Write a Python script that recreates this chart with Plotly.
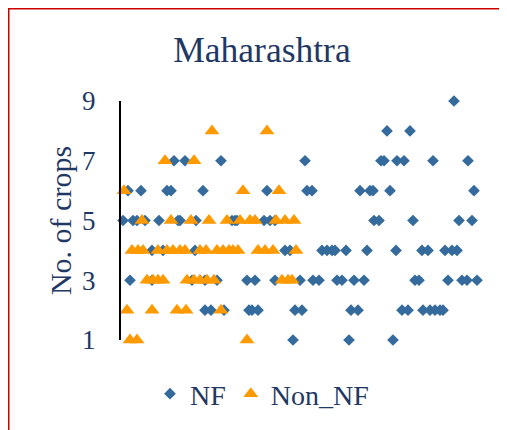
import plotly.graph_objects as go

# NF (diamonds): respondent position and number of crops
nf_x = [333,
        266, 289,
        53, 64, 100, 184, 260, 263, 276, 283, 312, 347,
        7, 20, 46, 50, 82, 146, 186, 191, 239, 249, 252, 269, 353,
        2, 12, 16, 24, 38, 57, 59, 75, 111, 114, 116, 143, 149, 154, 253, 258, 292, 338, 351,
        31, 42, 74, 164, 169, 201, 206, 211, 214, 225, 246, 275, 301, 307, 324, 331, 336,
        9, 31, 71, 84, 96, 126, 134, 154, 179, 192, 198, 216, 221, 233, 243, 294, 298, 327, 341, 346, 356,
        84, 90, 103, 128, 131, 137, 174, 181, 230, 237, 281, 287, 302, 309, 314, 319, 322,
        172, 228, 272]
nf_y = [9,
        8, 8,
        7, 7, 7, 7, 7, 7, 7, 7, 7, 7,
        6, 6, 6, 6, 6, 6, 6, 6, 6, 6, 6, 6, 6,
        5, 5, 5, 5, 5, 5, 5, 5, 5, 5, 5, 5, 5, 5, 5, 5, 5, 5, 5,
        4, 4, 4, 4, 4, 4, 4, 4, 4, 4, 4, 4, 4, 4, 4, 4, 4,
        3, 3, 3, 3, 3, 3, 3, 3, 3, 3, 3, 3, 3, 3, 3, 3, 3, 3, 3, 3, 3,
        2, 2, 2, 2, 2, 2, 2, 2, 2, 2, 2, 2, 2, 2, 2, 2, 2,
        1, 1, 1]

# Non_NF (triangles)
non_x = [91, 146,
         44, 73,
         3, 122, 158,
         21, 50, 70, 88, 106, 119, 129, 134, 155, 164, 173,
         11, 17, 22, 37, 46, 52, 59, 64, 79, 85, 96, 102, 108, 112, 117, 137, 144, 152, 175,
         26, 32, 37, 42, 66, 73, 79, 86, 93, 161, 167, 171,
         6, 31, 56, 65, 100,
         9, 16, 126]
non_y = [8, 8,
         7, 7,
         6, 6, 6,
         5, 5, 5, 5, 5, 5, 5, 5, 5, 5, 5,
         4, 4, 4, 4, 4, 4, 4, 4, 4, 4, 4, 4, 4, 4, 4, 4, 4, 4, 4,
         3, 3, 3, 3, 3, 3, 3, 3, 3, 3, 3, 3,
         2, 2, 2, 2, 2,
         1, 1, 1]

y_ticks = [1, 3, 5, 7, 9]

TXT = "#1F3864"
FONT = "Liberation Serif"

# page body adds an 8px offset; figure coordinates are shifted to compensate
OFF = 8
L, T = 121 - OFF, 101 - OFF
PW, PH = 369, 239

fig = go.Figure()
fig.add_trace(go.Scatter(x=nf_x, y=nf_y, mode="markers", name="NF",
                         marker=dict(symbol="diamond", size=9, color="#346A9C"),
                         cliponaxis=False))
fig.add_trace(go.Scatter(x=non_x, y=non_y, mode="markers", name="Non_NF",
                         marker=dict(symbol="triangle-up", size=13, color="#FF9900"),
                         cliponaxis=False))

fig.update_layout(
    width=507, height=430,
    margin=dict(l=L, r=507 - L - PW, t=T, b=430 - T - PH),
    paper_bgcolor="white", plot_bgcolor="white",
    font=dict(family=FONT, color=TXT),
    title=dict(text="Maharashtra", x=(262 - OFF)/507, xanchor="center",
               y=1 - (50 - OFF)/430, yanchor="middle", font=dict(size=35.5, color=TXT)),
    xaxis=dict(range=[0, 369], showgrid=False, zeroline=False, showline=False,
               showticklabels=False, ticks=""),
    yaxis=dict(range=[1, 9], tickvals=y_ticks, showgrid=False, zeroline=False,
               showline=True, linecolor="black", linewidth=2, ticks="",
               tickfont=dict(size=27, color=TXT), ticklabelstandoff=18,
               title=dict(text="No. of crops", font=dict(size=30, color=TXT), standoff=2)),
    showlegend=True,
    legend=dict(orientation="h", x=(262-121)/PW, xanchor="center",
                y=(340-394)/PH, yanchor="middle", font=dict(size=28, color=TXT),
                bgcolor="rgba(0,0,0,0)"),
    shapes=[dict(type="rect", xref="paper", yref="paper",
                 x0=(8.5-121)/PW, x1=(520-121)/PW,
                 y0=(340-445)/PH, y1=(340-8.5)/PH,
                 line=dict(color="#CC0000", width=2), layer="above")],
)

fig.write_html("out.html")
